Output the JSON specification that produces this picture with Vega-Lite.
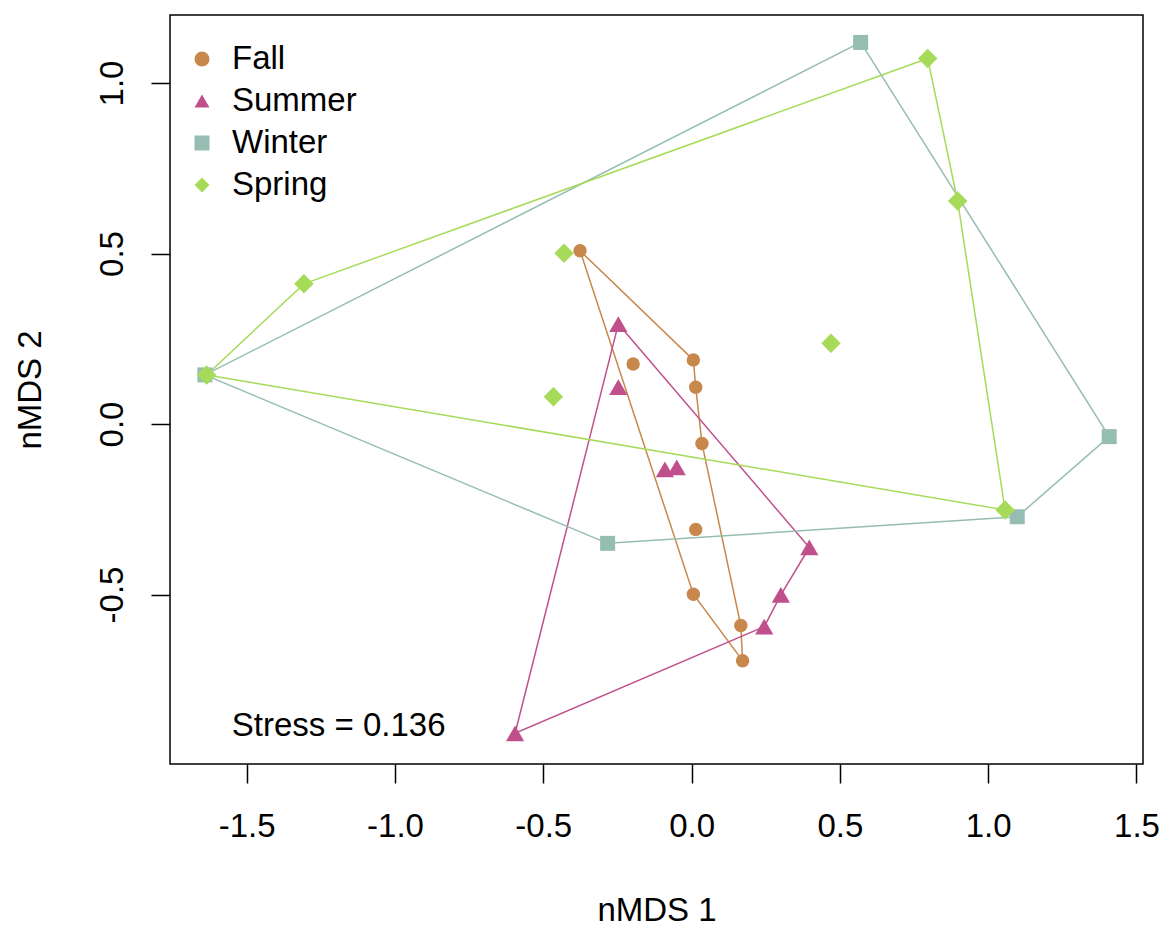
{
  "$schema": "https://vega.github.io/schema/vega-lite/v6.json",
  "width": 973,
  "height": 749,
  "autosize": {"type": "none"},
  "padding": {"left": 170, "top": 15, "right": 22, "bottom": 162},
  "background": "white",
  "config": {
    "font": "Liberation Sans",
    "view": {"stroke": "black", "strokeWidth": 1.5},
    "axis": {"grid": false, "domain": false, "tickColor": "black", "tickWidth": 1.5, "tickSize": 19, "labelColor": "black", "titleColor": "black", "labelFont": "Liberation Sans", "titleFont": "Liberation Sans", "labelFontSize": 33, "titleFontSize": 33, "titleFontWeight": "normal", "labelOverlap": false, "labelFlush": false}
  },
  "datasets": {
    "points": [
      {"season": "Fall", "x": -0.376, "y": 0.508},
      {"season": "Fall", "x": -0.197, "y": 0.176},
      {"season": "Fall", "x": 0.006, "y": 0.188},
      {"season": "Fall", "x": 0.014, "y": 0.108},
      {"season": "Fall", "x": 0.035, "y": -0.057},
      {"season": "Fall", "x": 0.014, "y": -0.309},
      {"season": "Fall", "x": 0.006, "y": -0.499},
      {"season": "Fall", "x": 0.166, "y": -0.591},
      {"season": "Fall", "x": 0.172, "y": -0.694},
      {"season": "Summer", "x": -0.247, "y": 0.293},
      {"season": "Summer", "x": -0.247, "y": 0.108},
      {"season": "Summer", "x": -0.09, "y": -0.133},
      {"season": "Summer", "x": -0.05, "y": -0.127},
      {"season": "Summer", "x": 0.397, "y": -0.362},
      {"season": "Summer", "x": 0.301, "y": -0.501},
      {"season": "Summer", "x": 0.245, "y": -0.594},
      {"season": "Summer", "x": -0.595, "y": -0.907},
      {"season": "Winter", "x": 0.57, "y": 1.119},
      {"season": "Winter", "x": 1.408, "y": -0.037},
      {"season": "Winter", "x": 1.098, "y": -0.272},
      {"season": "Winter", "x": -0.283, "y": -0.35},
      {"season": "Winter", "x": -1.641, "y": 0.144},
      {"season": "Spring", "x": 0.796, "y": 1.072},
      {"season": "Spring", "x": 0.897, "y": 0.654},
      {"season": "Spring", "x": 0.47, "y": 0.237},
      {"season": "Spring", "x": 1.057, "y": -0.252},
      {"season": "Spring", "x": -0.43, "y": 0.501},
      {"season": "Spring", "x": -0.466, "y": 0.08},
      {"season": "Spring", "x": -1.307, "y": 0.411},
      {"season": "Spring", "x": -1.635, "y": 0.144}
    ],
    "hull": [
      {"season": "Fall", "ord": 1, "x": -0.376, "y": 0.508},
      {"season": "Fall", "ord": 2, "x": 0.006, "y": 0.188},
      {"season": "Fall", "ord": 3, "x": 0.014, "y": 0.108},
      {"season": "Fall", "ord": 4, "x": 0.035, "y": -0.057},
      {"season": "Fall", "ord": 5, "x": 0.166, "y": -0.591},
      {"season": "Fall", "ord": 6, "x": 0.172, "y": -0.694},
      {"season": "Fall", "ord": 7, "x": 0.006, "y": -0.499},
      {"season": "Fall", "ord": 8, "x": -0.376, "y": 0.508},
      {"season": "Summer", "ord": 1, "x": -0.247, "y": 0.293},
      {"season": "Summer", "ord": 2, "x": 0.397, "y": -0.362},
      {"season": "Summer", "ord": 3, "x": 0.301, "y": -0.501},
      {"season": "Summer", "ord": 4, "x": 0.245, "y": -0.594},
      {"season": "Summer", "ord": 5, "x": -0.595, "y": -0.907},
      {"season": "Summer", "ord": 6, "x": -0.247, "y": 0.293},
      {"season": "Winter", "ord": 1, "x": 0.57, "y": 1.119},
      {"season": "Winter", "ord": 2, "x": 1.408, "y": -0.037},
      {"season": "Winter", "ord": 3, "x": 1.098, "y": -0.272},
      {"season": "Winter", "ord": 4, "x": -0.283, "y": -0.35},
      {"season": "Winter", "ord": 5, "x": -1.641, "y": 0.144},
      {"season": "Winter", "ord": 6, "x": 0.57, "y": 1.119},
      {"season": "Spring", "ord": 1, "x": 0.796, "y": 1.072},
      {"season": "Spring", "ord": 2, "x": 0.897, "y": 0.654},
      {"season": "Spring", "ord": 3, "x": 1.057, "y": -0.252},
      {"season": "Spring", "ord": 4, "x": -1.635, "y": 0.144},
      {"season": "Spring", "ord": 5, "x": -1.307, "y": 0.411},
      {"season": "Spring", "ord": 6, "x": 0.796, "y": 1.072}
    ],
    "note": [
      {"x": -1.55, "y": -0.915, "label": "Stress = 0.136"}
    ]
  },
  "resolve": {"legend": {"color": "independent", "shape": "independent", "stroke": "independent"}},
  "layer": [
    {
      "data": {"name": "hull"},
      "mark": {"type": "line", "strokeWidth": 1.5},
      "encoding": {
        "x": {"field": "x", "type": "quantitative", "scale": {"domain": [-1.7585, 1.522], "nice": false, "zero": false},
          "axis": {"values": [-1.5, -1, -0.5, 0, 0.5, 1, 1.5], "labelExpr": "(datum.value < 0 ? '-' : '') + format(abs(datum.value), '.1f')", "labelPadding": 27, "title": "nMDS 1", "titleBaseline": "alphabetic", "titleY": 156}},
        "y": {"field": "y", "type": "quantitative", "scale": {"domain": [-0.997, 1.1994], "nice": false, "zero": false},
          "axis": {"values": [-0.5, 0, 0.5, 1], "labelExpr": "(datum.value < 0 ? '-' : '') + format(abs(datum.value), '.1f')", "labelAngle": 270, "labelAlign": "center", "labelBaseline": "alphabetic", "labelPadding": 29, "title": "nMDS 2", "titleAngle": 270, "titleAlign": "center", "titleBaseline": "alphabetic", "titleX": -130}},
        "stroke": {"field": "season", "type": "nominal", "scale": {"domain": ["Fall", "Summer", "Winter", "Spring"], "range": ["#C8874B", "#C0508C", "#96BDB2", "#A6DB5A"]}, "legend": null},
        "detail": {"field": "season"},
        "order": {"field": "ord", "type": "quantitative"}
      }
    },
    {
      "data": {"name": "points"},
      "mark": {"type": "point", "filled": true, "opacity": 1, "strokeWidth": 0},
      "encoding": {
        "x": {"field": "x", "type": "quantitative"},
        "y": {"field": "y", "type": "quantitative"},
        "color": {"field": "season", "type": "nominal", "scale": {"domain": ["Fall", "Summer", "Winter", "Spring"], "range": ["#C8874B", "#C0508C", "#96BDB2", "#A6DB5A"]},
          "legend": {"title": null, "orient": "none", "legendX": 15.5, "legendY": 27.5, "padding": 0, "labelFontSize": 33, "labelFont": "Liberation Sans", "labelColor": "black", "symbolSize": 225, "symbolStrokeWidth": 0, "symbolOpacity": 1, "rowPadding": 8, "labelOffset": 13.5}},
        "shape": {"field": "season", "type": "nominal", "scale": {"domain": ["Fall", "Summer", "Winter", "Spring"], "range": ["circle", "triangle-up", "square", "diamond"]},
          "legend": {"title": null, "orient": "none", "legendX": 15.5, "legendY": 27.5, "padding": 0, "labelFontSize": 33, "labelFont": "Liberation Sans", "labelColor": "black", "symbolSize": 225, "symbolStrokeWidth": 0, "symbolOpacity": 1, "rowPadding": 8, "labelOffset": 13.5}},
        "size": {"condition": [{"test": "datum.season === 'Spring'", "value": 380}, {"test": "datum.season === 'Summer'", "value": 330}, {"test": "datum.season === 'Fall'", "value": 180}], "value": 225}
      }
    },
    {
      "data": {"name": "note"},
      "mark": {"type": "text", "align": "left", "baseline": "alphabetic", "fontSize": 33, "font": "Liberation Sans", "color": "black"},
      "encoding": {
        "x": {"field": "x", "type": "quantitative"},
        "y": {"field": "y", "type": "quantitative"},
        "text": {"field": "label"}
      }
    }
  ]
}
